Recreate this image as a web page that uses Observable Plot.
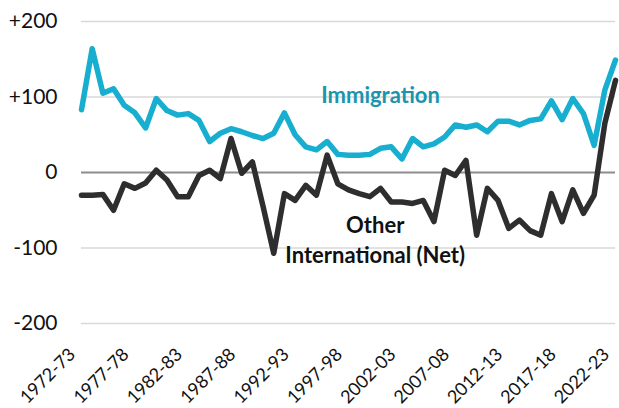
<!DOCTYPE html>
<html>
<head>
<meta charset="utf-8">
<script src="https://cdn.jsdelivr.net/npm/d3@7"></script>
<script src="https://cdn.jsdelivr.net/npm/@observablehq/plot@0.6"></script>
<style>
  html, body { margin: 0; padding: 0; background: #fff; }
  #chart { width: 619px; height: 408px; }
</style>
</head>
<body>
<div id="chart"></div>
<script>
// Fiscal years 1972-73 … 2022-23
const startYears = d3.range(1972, 2023);
const yearLabels = startYears.map(y => `${y}-${String((y + 1) % 100).padStart(2, "0")}`);

// Immigration (thousands)
const immigration = [
  83, 164, 105, 111, 89, 79, 59, 98, 82, 76,
  78, 69, 41, 52, 58, 54, 49, 45, 52, 79,
  50, 34, 30, 41, 24, 23, 23, 24, 32, 34,
  18, 45, 34, 38, 47, 63, 60, 63, 54, 68,
  68, 63, 69, 71, 95, 70, 98, 78, 36, 109, 149
];

// Other international migration, net (thousands)
const otherNet = [
  -30, -30, -29, -50, -15, -21, -14, 3, -10, -32,
  -32, -4, 3, -8, 45, -1, 14, -45, -107, -28,
  -37, -17, -30, 23, -15, -23, -28, -32, -21, -39,
  -39, -41, -37, -65, 3, -4, 16, -83, -21, -37,
  -74, -63, -77, -83, -28, -65, -23, -54, -30, 65, 122
];

const yTicks = [-200, -100, 0, 100, 200];
const xTickLabels = ["1972-73","1977-78","1982-83","1987-88","1992-93","1997-98","2002-03","2007-08","2012-13","2017-18","2022-23"];

const immData = immigration.map((v, i) => ({i, v}));
const othData = otherNet.map((v, i) => ({i, v}));
const xTicks = xTickLabels.map(l => ({i: yearLabels.indexOf(l), label: l}));

const font = "Lato, 'Open Sans', sans-serif";

const chart = Plot.plot({
  width: 619,
  height: 408,
  marginLeft: 81,
  marginRight: 4,
  marginTop: 21,
  marginBottom: 85,
  style: {fontFamily: font, background: "#fff", overflow: "visible"},
  x: {domain: [0, yearLabels.length - 1], axis: null},
  y: {domain: [-200, 200], axis: null},
  marks: [
    Plot.ruleY(yTicks.filter(d => d !== 0), {stroke: "#d9d9d9", strokeWidth: 1.5}),
    Plot.ruleY([0], {stroke: "#8c8c8c", strokeWidth: 2}),
    Plot.text(yTicks, {
      y: d => d, frameAnchor: "left", dx: -24, textAnchor: "end",
      text: d => d > 0 ? `+${d}` : `${d}`,
      fontSize: 21, fill: "#111"
    }),
    Plot.text(xTicks, {
      x: "i", frameAnchor: "bottom", text: "label",
      rotate: -45, textAnchor: "end", dx: -5, dy: 32,
      fontSize: 18, fill: "#111"
    }),
    Plot.line(immData, {x: "i", y: "v", stroke: "#17aecf", strokeWidth: 5.5, strokeLinejoin: "round"}),
    Plot.line(othData, {x: "i", y: "v", stroke: "#2e2e2e", strokeWidth: 5.5, strokeLinejoin: "round"}),
    Plot.text(["Immigration"], {
      x: 28, y: 101, text: d => d, fontSize: 22, fontWeight: "bold", fill: "#1b94ae"
    }),
    Plot.text(["Other"], {
      x: 27.5, y: -71, text: d => d, fontSize: 22, fontWeight: "bold", fill: "#111"
    }),
    Plot.text(["International (Net)"], {
      x: 27.5, y: -111, text: d => d, fontSize: 22, fontWeight: "bold", fill: "#111"
    })
  ]
});
document.getElementById("chart").appendChild(chart);
</script>
</body>
</html>
